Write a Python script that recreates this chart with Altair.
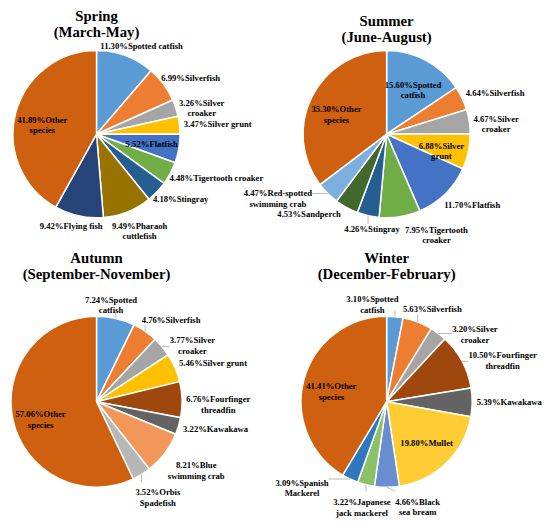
import math
import altair as alt
import pandas as pd

# ---------------- data ----------------
seasons = ["Spring", "Summer", "Autumn", "Winter"]
months = ["(March-May)", "(June-August)", "(September-November)", "(December-February)"]

spring_names = ["Spotted catfish", "Silverfish", "Silver\ncroaker", "Silver grunt", "Flatfish",
                "Tigertooth croaker", "Stingray", "Pharaoh\ncuttlefish", "Flying fish", "Other\nspecies"]
spring_values = [11.30, 6.99, 3.26, 3.47, 5.52, 4.48, 4.18, 9.49, 9.42, 41.89]
spring_inside = ["Flatfish", "Other species"]

summer_names = ["Spotted\ncatfish", "Silverfish", "Silver\ncroaker", "Silver\ngrunt", "Flatfish",
                "Tigertooth\ncroaker", "Stingray", "Sandperch", "Red-spotted\nswimming crab", "Other\nspecies"]
summer_values = [15.60, 4.64, 4.67, 6.88, 11.70, 7.95, 4.26, 4.53, 4.47, 35.30]
summer_inside = ["Spotted catfish", "Silver grunt", "Other species"]

autumn_names = ["Spotted\ncatfish", "Silverfish", "Silver\ncroaker", "Silver grunt", "Fourfinger\nthreadfin",
                "Kawakawa", "Blue\nswimming crab", "Orbis\nSpadefish", "Other\nspecies"]
autumn_values = [7.24, 4.76, 3.77, 5.46, 6.76, 3.22, 8.21, 3.52, 57.06]
autumn_inside = ["Other species"]

winter_names = ["Spotted\ncatfish", "Silverfish", "Silver\ncroaker", "Fourfinger\nthreadfin", "Kawakawa",
                "Mullet", "Black\nsea bream", "Japanese\njack mackerel", "Spanish\nMackerel", "Other\nspecies"]
winter_values = [3.10, 5.63, 3.20, 10.50, 5.39, 19.80, 4.66, 3.22, 3.09, 41.41]
winter_inside = ["Mullet", "Other species"]

# ---------------- style ----------------
COLORS = {
    "Spotted catfish": "#5B9BD5", "Silverfish": "#ED7D31", "Silver croaker": "#A5A5A5",
    "Silver grunt": "#FFC000", "Flatfish": "#4472C4", "Tigertooth croaker": "#70AD47",
    "Stingray": "#255E91", "Pharaoh cuttlefish": "#997300", "Flying fish": "#264478",
    "Other species": "#CF600F", "Sandperch": "#43682B", "Red-spotted swimming crab": "#7CAFDD",
    "Fourfinger threadfin": "#9E480E", "Kawakawa": "#636363", "Blue swimming crab": "#F1975A",
    "Orbis Spadefish": "#B7B7B7", "Mullet": "#FFCD33", "Black sea bream": "#698ED0",
    "Japanese jack mackerel": "#8CC168", "Spanish Mackerel": "#2E78C0",
}
FONT = "Liberation Serif"
FS = 8.8
LH = 10.5
W = 174
H = 174

CW = {c: 0.5 for c in "0123456789"}
CW.update({".": 0.25, "%": 1.0, " ": 0.25, "-": 0.333, "i": 0.278, "l": 0.278, "j": 0.333,
           "t": 0.333, "f": 0.333, "r": 0.444, "s": 0.389, "e": 0.444, "c": 0.444, "m": 0.833,
           "w": 0.722, "M": 0.944, "K": 0.778, "O": 0.778, "R": 0.722, "T": 0.667, "B": 0.667,
           "F": 0.611, "P": 0.611, "S": 0.556, "J": 0.5})


def text_size(s):
    lines = s.split("\n")
    w = max(sum(CW.get(c, 0.54) for c in ln) for ln in lines) * FS
    return w, LH * len(lines) + 1


def panel(season, month, names, values, inside, r, title_offset):
    cx, cy = W / 2, H / 2
    keys = [n.replace("\n", " ") for n in names]
    labels = [f"{v:.2f}%{n}" for v, n in zip(values, names)]
    total = sum(values)
    cum = 0.0
    mids = []
    for v in values:
        mids.append((cum + v / 2) / total * 2 * math.pi)
        cum += v

    rows = []
    boxes = []
    for k, lab, th in zip(keys, labels, mids):
        w, h = text_size(lab)
        if k in inside:
            ri = 0.67 * r
            rows.append({"label": lab, "lx": cx + ri * math.sin(th), "ly": cy - ri * math.cos(th)})
        else:
            ro = r + 4
            ax, ay = cx + ro * math.sin(th), cy - ro * math.cos(th)
            boxes.append([ax + math.sin(th) * w / 2, ay - math.cos(th) * h / 2, w, h, th, lab])

    def overlap(a, b, gap=4):
        return (a[0] - a[2] / 2 < b[0] + b[2] / 2 + gap and b[0] - b[2] / 2 < a[0] + a[2] / 2 + gap and
                a[1] - a[3] / 2 < b[1] + b[3] / 2 + gap and b[1] - b[3] / 2 < a[1] + a[3] / 2 + gap)

    for _ in range(3000):
        moved = False
        for i in range(len(boxes)):
            for j in range(i + 1, len(boxes)):
                a, b = boxes[i], boxes[j]
                if overlap(a, b):
                    moved = True
                    a[0] -= 0.4 * math.cos(a[4]); a[1] -= 0.4 * math.sin(a[4])
                    b[0] += 0.4 * math.cos(b[4]); b[1] += 0.4 * math.sin(b[4])
        for b in boxes:
            nx = min(max(cx, b[0] - b[2] / 2), b[0] + b[2] / 2)
            ny = min(max(cy, b[1] - b[3] / 2), b[1] + b[3] / 2)
            if math.hypot(nx - cx, ny - cy) < r + 3:
                b[0] += 0.4 * math.sin(b[4]); b[1] -= 0.4 * math.cos(b[4])
        if not moved:
            break

    leaders = []
    for b in boxes:
        rows.append({"label": b[5], "lx": b[0], "ly": b[1]})
        px, py = cx + r * math.sin(b[4]), cy - r * math.cos(b[4])
        qx = min(max(px, b[0] - b[2] / 2), b[0] + b[2] / 2)
        qy = min(max(py, b[1] - b[3] / 2), b[1] + b[3] / 2)
        if math.hypot(qx - px, qy - py) > 6:
            leaders.append({"x1": px, "y1": py, "x2": qx, "y2": qy})

    slices = pd.DataFrame({"name": keys, "value": values, "order": list(range(len(values)))})
    arcs = alt.Chart(slices).mark_arc(radius=r, stroke="white", strokeWidth=1.5).encode(
        theta=alt.Theta("value:Q", stack=True),
        color=alt.Color("name:N", scale=alt.Scale(domain=keys, range=[COLORS[k] for k in keys]), legend=None),
        order=alt.Order("order:Q"),
    )
    texts = alt.Chart(pd.DataFrame(rows)).mark_text(
        font=FONT, fontSize=FS, fontWeight="bold", lineBreak="\n", lineHeight=LH,
        align="center", baseline="middle", color="black",
    ).encode(
        x=alt.X("lx:Q", scale=None), y=alt.Y("ly:Q", scale=None), text="label:N"
    )
    layers = [arcs]
    if leaders:
        layers.append(alt.Chart(pd.DataFrame(leaders)).mark_rule(color="#A6A6A6", strokeWidth=0.8).encode(
            x=alt.X("x1:Q", scale=None), y=alt.Y("y1:Q", scale=None),
            x2=alt.X2("x2:Q"), y2=alt.Y2("y2:Q")))
    layers.append(texts)
    return alt.layer(*layers).properties(
        width=W, height=H,
        title=alt.Title([season, month], font=FONT, fontSize=15, fontWeight="bold", color="black",
                        lineHeight=16, anchor="middle", offset=title_offset),
    )


p1 = panel(seasons[0], months[0], spring_names, spring_values, spring_inside, 85, 3)
p2 = panel(seasons[1], months[1], summer_names, summer_values, summer_inside, 85, 3)
p3 = panel(seasons[2], months[2], autumn_names, autumn_values, autumn_inside, 87, 14)
p4 = panel(seasons[3], months[3], winter_names, winter_values, winter_inside, 87, 14)

chart = alt.concat(p1, p2, p3, p4, columns=2, spacing={"row": 98, "column": 121},
                   bounds="flush").resolve_scale(color="independent", theta="independent").properties(
    padding={"top": -4, "left": 0, "right": 0, "bottom": 0}).configure_view(stroke=None)

chart.save("out.html", embed_options={"renderer": "svg", "actions": False})
